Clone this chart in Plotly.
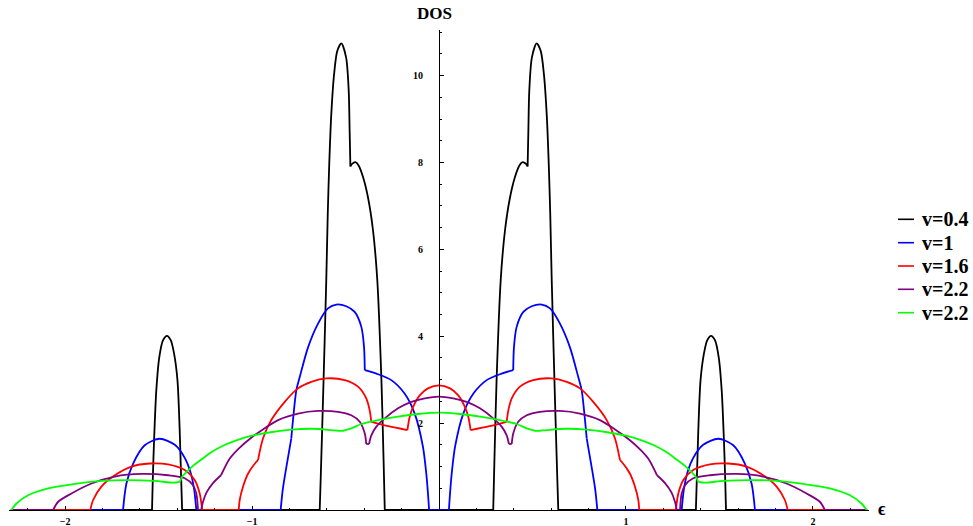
import plotly.graph_objects as go

# ---- data (positive-energy half; DOS is symmetric in epsilon) ----
labels = ["v=0.4", "v=1", "v=1.6", "v=2.2", "v=2.2"]
colors = ["#000000", "#0000ff", "#ff0000", "#800080", "#00ff00"]

black_eps = [0.000, 0.290, 0.296, 0.308, 0.330, 0.353, 0.380, 0.406, 0.430, 0.447, 0.465, 0.474,
             0.478, 0.483, 0.497, 0.522, 0.544, 0.561, 0.576, 0.587, 0.595, 0.603, 0.620, 0.633,
             0.638, 1.374, 1.387, 1.399, 1.417, 1.435, 1.455, 1.476, 1.496, 1.512, 1.524, 1.531,
             1.535, 2.290]
black_dos = [0.00, 0.00, 1.07, 2.99, 5.29, 6.44, 7.20, 7.66, 7.93, 8.01, 7.97, 7.91,
             8.74, 9.66, 10.42, 10.74, 10.57, 10.04, 9.12, 7.97, 6.82, 5.29, 2.60, 0.69,
             0.00, 0.00, 1.84, 2.99, 3.60, 3.91, 4.01, 3.91, 3.52, 2.76, 1.61, 0.69,
             0.00, 0.00]

blue_eps = [0.000, 0.053, 0.059, 0.068, 0.086, 0.130, 0.184, 0.255, 0.335, 0.397, 0.401, 0.415,
            0.451, 0.496, 0.549, 0.594, 0.647, 0.700, 0.745, 0.763, 0.781, 0.790, 0.816, 0.836,
            0.847, 1.298, 1.310, 1.330, 1.360, 1.413, 1.494, 1.574, 1.636, 1.672, 1.690, 2.290]
blue_dos = [0.00, 0.00, 0.38, 0.84, 1.46, 2.22, 2.68, 2.99, 3.14, 3.22, 3.75, 4.21,
            4.56, 4.69, 4.73, 4.64, 4.29, 3.75, 3.06, 2.76, 2.07, 1.65, 1.00, 0.46,
            0.00, 0.00, 0.48, 0.88, 1.20, 1.50, 1.64, 1.49, 1.07, 0.61, 0.00, 0.00]

red_eps = [0.000, 0.059, 0.103, 0.139, 0.157, 0.169, 0.270, 0.362, 0.371, 0.389, 0.433, 0.504,
           0.603, 0.683, 0.754, 0.825, 0.897, 0.941, 0.968, 0.977, 1.021, 1.048, 1.066, 1.071,
           1.267, 1.280, 1.307, 1.360, 1.449, 1.547, 1.645, 1.734, 1.806, 1.850, 1.865, 2.290]
red_dos = [2.87, 2.80, 2.64, 2.37, 2.14, 1.84, 1.93, 2.03, 2.30, 2.57, 2.84, 2.99,
           3.03, 2.95, 2.80, 2.49, 2.07, 1.65, 1.15, 1.11, 0.84, 0.54, 0.23, 0.00,
           0.00, 0.38, 0.69, 0.92, 1.05, 1.07, 1.00, 0.80, 0.54, 0.23, 0.00, 0.00]

purple_eps = [0.000, 0.076, 0.148, 0.219, 0.290, 0.335, 0.362, 0.374, 0.389, 0.397, 0.424, 0.469,
              0.540, 0.647, 0.754, 0.861, 0.940, 1.011, 1.070, 1.120, 1.166, 1.209, 1.244, 1.262,
              1.272, 1.289, 1.298, 1.316, 1.360, 1.449, 1.592, 1.734, 1.859, 1.966, 2.037, 2.064,
              2.290]
purple_dos = [2.61, 2.57, 2.49, 2.34, 2.11, 1.92, 1.72, 1.52, 1.52, 1.76, 2.03, 2.18,
              2.26, 2.28, 2.22, 2.07, 1.86, 1.64, 1.42, 1.18, 0.80, 0.62, 0.40, 0.19,
              0.00, 0.00, 0.38, 0.57, 0.73, 0.80, 0.83, 0.77, 0.61, 0.38, 0.19, 0.00,
              0.00]

green_eps = [0.000, 0.112, 0.219, 0.326, 0.415, 0.469, 0.522, 0.576, 0.683, 0.790, 0.900, 1.000,
             1.080, 1.150, 1.210, 1.265, 1.320, 1.374, 1.387, 1.422, 1.520, 1.663, 1.806, 1.948,
             2.091, 2.198, 2.260, 2.287]
green_dos = [2.24, 2.21, 2.15, 2.07, 1.98, 1.88, 1.82, 1.84, 1.87, 1.85, 1.79, 1.71,
             1.61, 1.49, 1.35, 1.18, 1.00, 0.77, 0.65, 0.63, 0.67, 0.69, 0.67, 0.60,
             0.50, 0.34, 0.15, 0.00]

# indices (in the half arrays) of band edges / kinks where the smooth curve breaks
black_kinks = [1, 11, 24, 25, 36]
blue_kinks = [1, 9, 21, 24, 25, 34]
red_kinks = [5, 7, 18, 23, 24, 34]
purple_kinks = [7, 8, 20, 24, 25, 35]
green_kinks = [17, 18]

x_ticks = [-2, -1, 1, 2]
x_ticktext = ["\u22122", "\u22121", "1", "2"]
y_ticks = [2, 4, 6, 8, 10]


def mirror(e, d, kinks):
    n = len(e)
    xs = [-v for v in reversed(e[1:])] + list(e)
    ys = list(reversed(d[1:])) + list(d)
    b = {0, len(xs) - 1}
    for k in kinks:
        b.add(n - 1 - k)
        b.add(n - 1 + k)
    return xs, ys, sorted(b)


series = [(black_eps, black_dos, black_kinks), (blue_eps, blue_dos, blue_kinks),
          (red_eps, red_dos, red_kinks), (purple_eps, purple_dos, purple_kinks),
          (green_eps, green_dos, green_kinks)]

SERIF = "Liberation Serif"
fig = go.Figure()
for (e, d, kk), name, c in zip(series, labels, colors):
    xs, ys, br = mirror(e, d, kk)
    for a, b in zip(br[:-1], br[1:]):
        fig.add_trace(go.Scatter(x=xs[a:b + 1], y=ys[a:b + 1], mode="lines", name=name,
                                 line=dict(color=c, width=1.8, shape="spline", smoothing=0.8),
                                 showlegend=False, hoverinfo="skip"))

# layout geometry
W, H = 973, 526
ml, mr, mt, mb = 9, 104, 30, 16
pw, ph = W - ml - mr, H - mt - mb


def px2paper(px, py):
    return (px - ml) / pw, (H - mb - py) / ph


fig.update_layout(
    width=W, height=H,
    margin=dict(l=ml, r=mr, t=mt, b=mb, autoexpand=False),
    plot_bgcolor="white", paper_bgcolor="white",
    xaxis=dict(range=[-2.3, 2.3], showgrid=False, zeroline=False, showline=True, automargin=False,
               linecolor="black", linewidth=1, ticks="inside", ticklen=4, tickcolor="black",
               tickvals=x_ticks, ticktext=x_ticktext, ticklabelstandoff=2,
               tickfont=dict(family=SERIF, size=10, color="black", weight="bold"),
               minor=dict(dtick=0.2, ticks="inside", ticklen=2, tickcolor="black")),
    yaxis=dict(range=[0, 11.05], showgrid=False, zeroline=False, showline=True, automargin=False,
               linecolor="black", linewidth=1, anchor="free", position=0.5,
               ticks="inside", ticklen=4, tickcolor="black", tickvals=y_ticks,
               ticklabelstandoff=14,
               tickfont=dict(family=SERIF, size=10, color="black", weight="bold"),
               minor=dict(dtick=0.5, ticks="inside", ticklen=2, tickcolor="black")),
)

# axis labels
ax, ay = px2paper(434, 14)
fig.add_annotation(x=ax, y=ay, xref="paper", yref="paper", text="<b>DOS</b>", showarrow=False,
                   font=dict(family=SERIF, size=17, color="black"), xanchor="center", yanchor="middle")
ax, ay = px2paper(882, 509)
fig.add_annotation(x=ax, y=ay, xref="paper", yref="paper", text="<b>\u03f5</b>", showarrow=False,
                   font=dict(family=SERIF, size=18, color="black"), xanchor="center", yanchor="middle")

# custom legend
leg_y = [219.3, 242.7, 266.0, 289.3, 312.7]
for name, c, ly in zip(labels, colors, leg_y):
    x0, yy = px2paper(898, ly)
    x1, _ = px2paper(914, ly)
    fig.add_shape(type="line", xref="paper", yref="paper", x0=x0, x1=x1, y0=yy, y1=yy,
                  line=dict(color=c, width=1.6))
    tx, _ = px2paper(920, ly)
    fig.add_annotation(x=tx, y=yy, xref="paper", yref="paper", text="<b>" + name + "</b>",
                       showarrow=False, xanchor="left", yanchor="middle",
                       font=dict(family=SERIF, size=20, color="black"))

fig.write_html("out.html", config={"displayModeBar": False},
               post_script="document.body.style.margin='0px';")
